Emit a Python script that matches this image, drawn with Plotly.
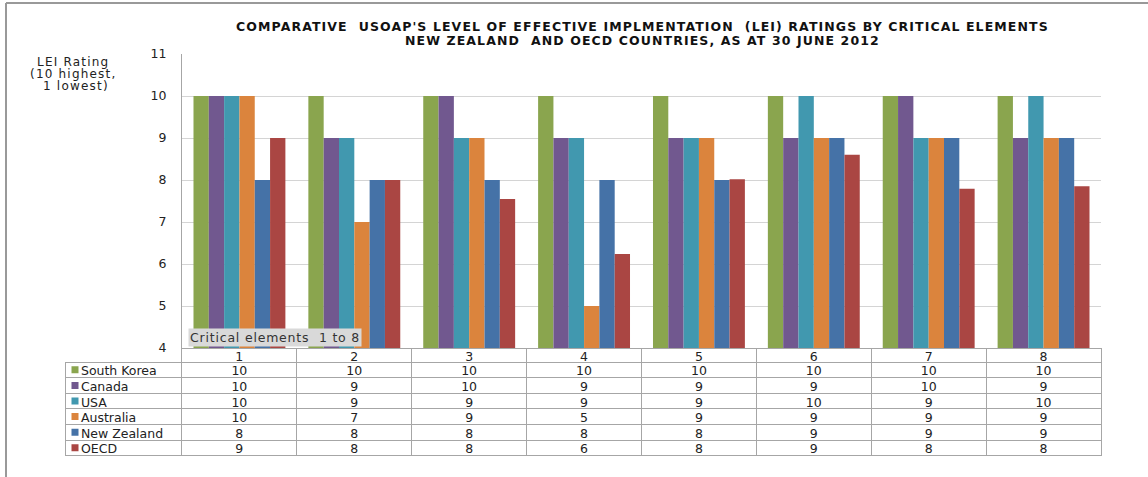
import plotly.graph_objects as go

W, H = 1148, 477

categories = ["1", "2", "3", "4", "5", "6", "7", "8"]
series_names = ["South Korea", "Canada", "USA", "Australia", "New Zealand", "OECD"]
south_korea = [10, 10, 10, 10, 10, 10, 10, 10]
canada = [10, 9, 10, 9, 9, 9, 10, 9]
usa = [10, 9, 9, 9, 9, 10, 9, 10]
australia = [10, 7, 9, 5, 9, 9, 9, 9]
new_zealand = [8, 8, 8, 8, 8, 9, 9, 9]
oecd = [9.0, 8.0, 7.55, 6.24, 8.02, 8.6, 7.79, 7.85]
colors = ["#8aa54e", "#71588f", "#4198af", "#db843d", "#4572a7", "#aa4643"]

series_values = [south_korea, canada, usa, australia, new_zealand, oecd]

title_line1 = "COMPARATIVE  USOAP'S LEVEL OF EFFECTIVE IMPLMENTATION  (LEI) RATINGS BY CRITICAL ELEMENTS"
title_line2 = "NEW ZEALAND  AND OECD COUNTRIES, AS AT 30 JUNE 2012"
y_label_lines = ["LEI Rating", "(10 highest,", " 1 lowest)"]
box_label = "Critical elements  1 to 8"

FONT = "DejaVu Sans, Arial, sans-serif"
TXT = "#222222"
NB = "\u00a0"
CLEAR = "rgba(0,0,0,0)"

def px(x):
    return x / W

def py(y):
    return 1 - y / H

def nbsp(s):
    return s.replace(" ", NB)

def spaced(s, ls):
    return f'<span style="letter-spacing:{ls}px">{nbsp(s)}</span>'

TABLE_TOP, HEADER_H, ROW_H = 348, 14, 15.6
TEXT_SHIFT = 4
ncat = len(categories)
nser = len(series_names)

fig = go.Figure()
for name, vals, col in zip(series_names, series_values, colors):
    fig.add_trace(go.Bar(
        x=categories, y=vals, name=name, marker=dict(color=col, line=dict(width=0)),
        showlegend=False, xaxis="x", yaxis="y",
    ))

# legend keys in the table's first column (one square per table row)
fig.add_trace(go.Scatter(
    x=[0] * nser, y=list(range(nser)), mode="markers",
    marker=dict(symbol="square", size=7, color=colors, line=dict(width=0)),
    xaxis="x2", yaxis="y2", showlegend=False, hoverinfo="skip",
))

# data table under the chart: grid (lines) and text drawn as two aligned tables
legend_cells = [NB * 2 + n for n in series_names]
table_cols = [legend_cells]
for i in range(ncat):
    table_cols.append([f"{round(v[i]):d}" for v in series_values])
blank_cols = [[""] * nser for _ in range(ncat + 1)]
widths = [117] + [115] * ncat
rows_top = TABLE_TOP + HEADER_H
table_bottom = rows_top + ROW_H * nser + 2

fig.add_trace(go.Table(
    domain=dict(x=[px(65), px(1101)], y=[py(table_bottom), py(TABLE_TOP)]),
    columnwidth=widths,
    header=dict(
        values=[""] * (ncat + 1), height=HEADER_H,
        fill=dict(color=[CLEAR] + ["white"] * ncat),
        line=dict(color=[CLEAR] + ["#a6a6a6"] * ncat, width=1),
    ),
    cells=dict(
        values=blank_cols, height=ROW_H,
        fill=dict(color=[CLEAR] + ["white"] * ncat),
        line=dict(color="#a6a6a6", width=1),
    ),
))
fig.add_trace(go.Table(
    domain=dict(x=[px(65), px(1101)],
                y=[py(table_bottom - TEXT_SHIFT), py(TABLE_TOP - TEXT_SHIFT)]),
    columnwidth=widths,
    header=dict(
        values=[""] + categories, height=HEADER_H, align="center",
        fill=dict(color=CLEAR),
        line=dict(color=CLEAR, width=0),
        font=dict(family=FONT, size=12.5, color=TXT),
    ),
    cells=dict(
        values=table_cols, height=ROW_H,
        align=["left"] + ["center"] * ncat,
        fill=dict(color=CLEAR),
        line=dict(color=CLEAR, width=0),
        font=dict(family=FONT, size=12.5, color=TXT),
    ),
))

annotations = [
    dict(text=f"<b>{spaced(title_line1, 1.1)}</b>", xref="paper", yref="paper",
         x=px(642), y=py(27), xanchor="center", yanchor="middle", showarrow=False,
         font=dict(family=FONT, size=12.5, color="#111111")),
    dict(text=f"<b>{spaced(title_line2, 1.1)}</b>", xref="paper", yref="paper",
         x=px(642), y=py(40), xanchor="center", yanchor="middle", showarrow=False,
         font=dict(family=FONT, size=12.5, color="#111111")),
    dict(text=spaced(box_label, 0.8), xref="paper", yref="paper", x=px(188), y=py(337),
         xanchor="left", yanchor="middle", showarrow=False, bgcolor="#d9d9d9",
         borderpad=1, font=dict(family=FONT, size=12.5, color="#333333")),
]
for line, yy in zip(y_label_lines, [62, 74, 86]):
    annotations.append(dict(text=spaced(line, 1.2), xref="paper", yref="paper",
                            x=px(73), y=py(yy), xanchor="center", yanchor="middle",
                            showarrow=False, font=dict(family=FONT, size=12, color=TXT)))

fig.update_layout(
    width=W, height=H,
    margin=dict(l=0, r=0, t=0, b=0, autoexpand=False),
    paper_bgcolor="white", plot_bgcolor="white",
    barmode="group", bargap=0.2, bargroupgap=0,
    font=dict(family=FONT, size=12, color=TXT),
    xaxis=dict(
        domain=[px(182), px(1101)], showticklabels=False, showgrid=False,
        showline=False, zeroline=False, anchor="y", automargin=False,
    ),
    yaxis=dict(
        domain=[py(348), py(54)], range=[4, 11], dtick=1, tick0=4,
        showgrid=True, gridcolor="#d4d4d4", gridwidth=1,
        showline=True, linecolor="#a6a6a6", linewidth=1,
        ticks="", ticklabelstandoff=12, zeroline=False, automargin=False,
        tickfont=dict(family=FONT, size=12.5, color=TXT), anchor="x",
    ),
    xaxis2=dict(
        domain=[px(70), px(80)], range=[-1, 1], visible=False, anchor="y2",
        fixedrange=True, automargin=False,
    ),
    yaxis2=dict(
        domain=[py(rows_top + ROW_H * nser), py(rows_top)], range=[nser - 0.5, -0.5],
        visible=False, anchor="x2", fixedrange=True, automargin=False,
    ),
    annotations=annotations,
    shapes=[
        dict(type="line", xref="paper", yref="paper", x0=px(6), x1=1, y0=py(3), y1=py(3),
             line=dict(color="#999999", width=2)),
        dict(type="line", xref="paper", yref="paper", x0=px(6), x1=px(6), y0=py(3), y1=0,
             line=dict(color="#999999", width=2)),
    ],
)

fig.write_html("out.html")
